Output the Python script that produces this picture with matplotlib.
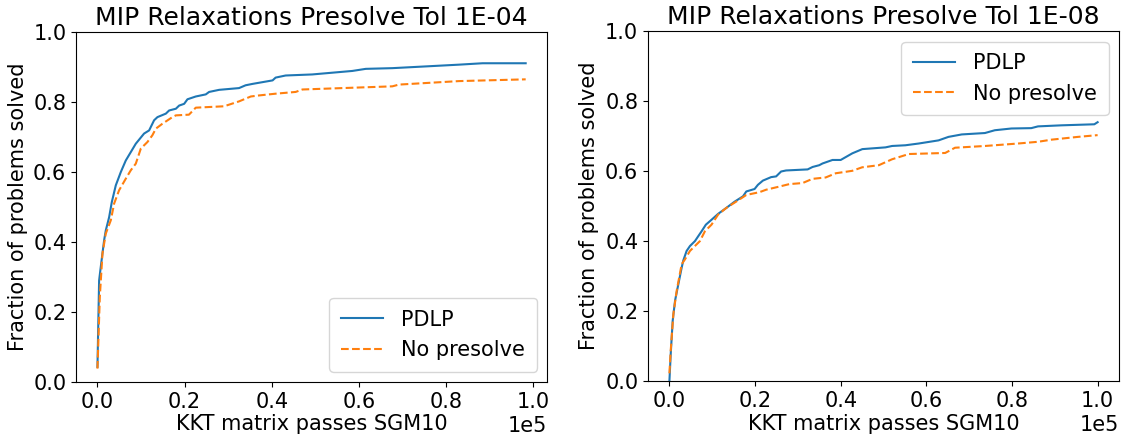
import matplotlib
matplotlib.use("Agg")
import matplotlib.pyplot as plt

# Left panel: tolerance 1E-04 (x in units of KKT passes)
left_pdlp_x = [0, 380, 770, 1530, 1910, 2680, 3290, 4210, 5360, 6500, 7650, 8800, 10700,
               11860, 13000, 13770, 15700, 16450, 18000, 18750, 19900, 20660, 22570, 24870,
               25630, 27930, 32500, 34000, 35600, 37900, 40200, 40900, 43200, 49300, 53900,
               58500, 61600, 67700, 75400, 83000, 88400, 98300]
left_pdlp_y = [0.043, 0.29, 0.33, 0.405, 0.433, 0.471, 0.514, 0.562, 0.600, 0.633, 0.657,
               0.681, 0.710, 0.719, 0.748, 0.757, 0.767, 0.776, 0.781, 0.790, 0.795, 0.808,
               0.816, 0.822, 0.829, 0.835, 0.840, 0.848, 0.852, 0.857, 0.862, 0.870, 0.876,
               0.879, 0.884, 0.889, 0.895, 0.897, 0.902, 0.907, 0.911, 0.911]
left_nopre_x = [0, 540, 1150, 1910, 3060, 3830, 4970, 6500, 7650, 8800, 9950, 11480, 12600,
                13400, 14900, 17200, 18000, 21000, 22570, 29070, 32500, 35200, 37100, 40900,
                45500, 47050, 56200, 67700, 69200, 83000, 98300]
left_nopre_y = [0.038, 0.243, 0.367, 0.424, 0.462, 0.510, 0.548, 0.581, 0.605, 0.624, 0.667,
                0.686, 0.705, 0.724, 0.738, 0.757, 0.762, 0.764, 0.784, 0.788, 0.802, 0.816,
                0.819, 0.824, 0.829, 0.836, 0.840, 0.845, 0.850, 0.860, 0.865]

# Right panel: tolerance 1E-08
right_pdlp_x = [0, 310, 770, 1320, 2090, 2860, 3250, 4020, 4800, 5960, 6730, 7510, 8510,
                9830, 11380, 13300, 15250, 17180, 17960, 19890, 20670, 21830, 23760, 24920,
                26080, 27240, 32280, 33440, 34980, 35760, 38080, 40000, 42720, 45050, 50460,
                52000, 55100, 58200, 62850, 65170, 68270, 73680, 76000, 79880, 84500, 86070,
                91490, 99230, 100000]
right_pdlp_y = [0.0, 0.078, 0.173, 0.230, 0.277, 0.324, 0.345, 0.372, 0.386, 0.400, 0.414,
                0.428, 0.447, 0.461, 0.478, 0.495, 0.513, 0.528, 0.542, 0.549, 0.561, 0.573,
                0.583, 0.585, 0.599, 0.602, 0.605, 0.612, 0.617, 0.622, 0.632, 0.632, 0.651,
                0.663, 0.668, 0.672, 0.674, 0.679, 0.688, 0.698, 0.705, 0.709, 0.717, 0.722,
                0.723, 0.728, 0.731, 0.734, 0.740]
right_nopre_x = [0, 310, 930, 1700, 2860, 3640, 4800, 5960, 7120, 8280, 9830, 11380, 13300,
                 15600, 17960, 21050, 22600, 25700, 28000, 31100, 33400, 36500, 38850, 42700,
                 45000, 48900, 52000, 55900, 64400, 66700, 73700, 81400, 86100, 89200, 95400,
                 100000]
right_nopre_y = [0.022, 0.088, 0.192, 0.258, 0.334, 0.348, 0.372, 0.386, 0.400, 0.428, 0.447,
                 0.476, 0.495, 0.513, 0.532, 0.540, 0.547, 0.556, 0.563, 0.566, 0.578, 0.582,
                 0.594, 0.601, 0.611, 0.617, 0.634, 0.649, 0.652, 0.667, 0.672, 0.679, 0.684,
                 0.690, 0.698, 0.703]

titles = ["MIP Relaxations Presolve Tol 1E-04", "MIP Relaxations Presolve Tol 1E-08"]
series_labels = ["PDLP", "No presolve"]
xlabel = "KKT matrix passes SGM10"
ylabel = "Fraction of problems solved"

fig = plt.figure(figsize=(11.25, 4.4), dpi=100)
ax1 = fig.add_axes([0.0676, 0.132, 0.4187, 0.795])
ax2 = fig.add_axes([0.576, 0.134, 0.4187, 0.795])

panels = [
    (ax1, left_pdlp_x, left_pdlp_y, left_nopre_x, left_nopre_y, "lower right"),
    (ax2, right_pdlp_x, right_pdlp_y, right_nopre_x, right_nopre_y, "upper right"),
]
for i, (ax, px, py, nx, ny, loc) in enumerate(panels):
    ax.plot(px, py, color="#1f77b4", linewidth=1.5, label=series_labels[0])
    ax.plot(nx, ny, color="#ff7f0e", linewidth=1.5, linestyle="--", label=series_labels[1])
    ax.set_ylim(0, 1.0)
    ax.ticklabel_format(axis="x", style="sci", scilimits=(0, 0))
    ax.set_title(titles[i], fontsize=18, pad=5)
    ax.set_xlabel(xlabel, fontsize=15, labelpad=2)
    ax.set_ylabel(ylabel, fontsize=15)
    ax.tick_params(labelsize=15)
    ax.xaxis.get_offset_text().set_fontsize(15)
    ax.legend(loc=loc, fontsize=15, borderpad=0.55, handlelength=2.0, handletextpad=0.9)

fig.savefig("out.png", dpi=100)
